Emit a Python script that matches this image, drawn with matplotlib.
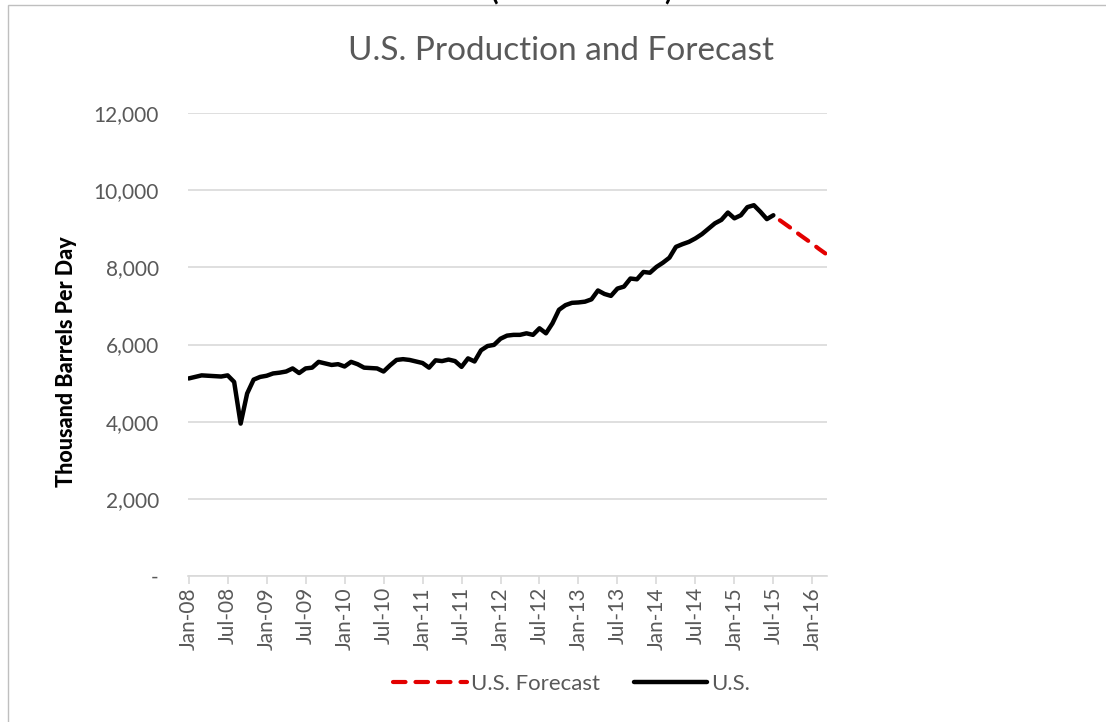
import matplotlib
import matplotlib.pyplot as plt
from matplotlib.patches import Rectangle

# Formatting
plt.rcParams['font.family'] = ['Lato', 'DejaVu Sans']
grey_text = '#595959'
grid_col = '#D9D9D9'

# Data (thousand barrels per day), monthly from Jan-08
us_prod = [5120, 5160, 5200, 5190, 5180, 5170, 5200, 5030, 3950, 4730, 5090, 5160,
           5190, 5250, 5270, 5300, 5380, 5260, 5380, 5400, 5550, 5510, 5470, 5490,
           5430, 5550, 5490, 5400, 5390, 5380, 5300, 5460, 5600, 5620, 5600, 5560,
           5520, 5400, 5590, 5570, 5610, 5570, 5420, 5640, 5560, 5850, 5960, 5990,
           6150, 6230, 6250, 6250, 6290, 6250, 6420, 6290, 6550, 6900, 7020, 7080,
           7090, 7110, 7170, 7400, 7310, 7260, 7450, 7500, 7710, 7690, 7880, 7860,
           8010, 8120, 8250, 8530, 8600, 8660, 8750, 8860, 9000, 9140, 9230, 9420,
           9270, 9350, 9560, 9610, 9440, 9250, 9350]
# forecast Aug-15 .. Mar-16
us_forecast = [9220, 9100, 8980, 8850, 8730, 8610, 8480, 8360]

tick_labels = ['Jan-08', 'Jul-08', 'Jan-09', 'Jul-09', 'Jan-10', 'Jul-10', 'Jan-11', 'Jul-11',
               'Jan-12', 'Jul-12', 'Jan-13', 'Jul-13', 'Jan-14', 'Jul-14', 'Jan-15', 'Jul-15', 'Jan-16']
y_ticks = [0, 2000, 4000, 6000, 8000, 10000, 12000]

x_prod = list(range(len(us_prod)))
x_fc = list(range(len(us_prod), len(us_prod) + len(us_forecast)))

fig = plt.figure(figsize=(11.06, 7.22), dpi=100)
ax = fig.add_axes([0.170, 0.2022, 0.578, 0.6413])

ax.plot(x_fc, us_forecast, color='#E30000', lw=3.0, dashes=(3.0, 2.4),
        dash_capstyle='round', label='U.S. Forecast')
ax.plot(x_prod, us_prod, color='black', lw=3.2, solid_capstyle='round',
        solid_joinstyle='round', label='U.S.')

ax.set_xlim(-0.1, 98.3)
ax.set_ylim(0, 12000)
ax.set_yticks(y_ticks)
ax.set_yticklabels(['-'] + [f'{v:,}' for v in y_ticks[1:]], color=grey_text, fontsize=15)
ax.set_xticks(range(0, 97, 6))
ax.set_xticklabels(tick_labels, rotation=90, color=grey_text, fontsize=15)

ax.grid(axis='y', color=grid_col, lw=1.2)
ax.set_axisbelow(True)
for s in ['top', 'right', 'left']:
    ax.spines[s].set_visible(False)
ax.spines['bottom'].set_color(grid_col)
ax.spines['bottom'].set_linewidth(1.2)
ax.tick_params(axis='y', length=0, pad=21)
ax.tick_params(axis='x', length=6, color=grid_col, width=1.2, pad=2)

ax.set_ylabel('Thousand Barrels Per Day', fontsize=15.5, fontweight='black')
ax.yaxis.set_label_coords(-0.174, 0.462)
fig.text(0.507, 0.93, 'U.S. Production and Forecast', ha='center', va='center',
         fontsize=24, color=grey_text)

# chopped-off header above the chart
fig.text(495 / 1106, 1.0, '(', ha='center', va='baseline', fontsize=20, fontweight='bold')
fig.text(668 / 1106, 1.0, ')', ha='center', va='baseline', fontsize=20, fontweight='bold')

# chart border
fig.patches.append(Rectangle((8 / 1106, -0.1), 1.2, 1.1 - 5 / 722, transform=fig.transFigure,
                             fill=False, edgecolor='#BFBFBF', lw=1))

leg = fig.legend(loc='center', bbox_to_anchor=(0.517, 0.053), ncol=2, frameon=False,
                 fontsize=16, handlelength=3.3, columnspacing=1.5, handletextpad=0.2)
for t in leg.get_texts():
    t.set_color(grey_text)

fig.savefig('out.png')
